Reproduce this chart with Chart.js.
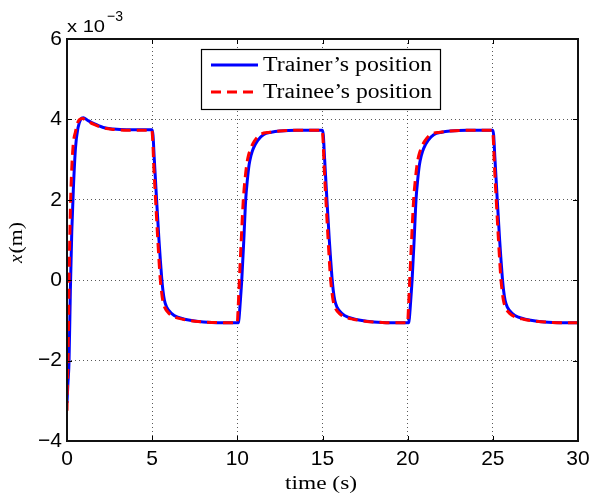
<!DOCTYPE html>
<html>
<head>
<meta charset="utf-8">
<script src="https://cdn.jsdelivr.net/npm/chart.js@4.4.0/dist/chart.umd.min.js"></script>
<style>
  html, body { margin: 0; padding: 0; background: #fff; }
  #wrap { width: 591px; height: 499px; }
</style>
</head>
<body>
<div id="wrap"><canvas id="c" width="591" height="499"></canvas></div>
<script>
// Values are in units of 1e-3 m (axis shows "x 10^-3")
const trainerTime = [
  0, 0.05, 0.12, 0.2, 0.28, 0.37, 0.5, 0.65, 0.8, 0.96, 1.2, 1.55, 2.13, 2.72, 3.5, 5.0,
  5.05, 5.12, 5.26, 5.40, 5.48, 5.56, 5.63, 5.72, 5.85, 6.15, 6.5, 6.9, 7.6, 8.5, 10.0,
  10.06, 10.10, 10.18, 10.26, 10.38, 10.49, 10.59, 10.69, 10.80, 10.94, 11.2, 11.53, 12.0, 12.5, 13.5, 15.0,
  15.05, 15.12, 15.26, 15.40, 15.48, 15.56, 15.63, 15.72, 15.85, 16.15, 16.5, 16.9, 17.6, 18.5, 20.0,
  20.06, 20.10, 20.18, 20.26, 20.38, 20.49, 20.59, 20.69, 20.80, 20.94, 21.2, 21.53, 22.0, 22.5, 23.5, 25.0,
  25.05, 25.12, 25.26, 25.40, 25.48, 25.56, 25.63, 25.72, 25.85, 26.15, 26.5, 26.9, 27.6, 28.5, 30.0
];
const trainerPos = [
  -3.05, -2.6, -2.0, -0.2, 1.2, 2.24, 3.3, 3.8, 4.0, 4.04, 3.98, 3.9, 3.8, 3.76, 3.74, 3.74,
  3.6, 3.05, 2.0, 1.0, 0.5, 0.05, -0.25, -0.5, -0.67, -0.83, -0.92, -0.97, -1.02, -1.05, -1.06,
  -1.05, -0.95, -0.5, 0, 1.0, 2.0, 2.5, 2.87, 3.1, 3.28, 3.48, 3.62, 3.68, 3.71, 3.73, 3.73,
  3.6, 3.05, 2.0, 1.0, 0.5, 0.05, -0.25, -0.5, -0.67, -0.83, -0.92, -0.97, -1.02, -1.05, -1.06,
  -1.05, -0.95, -0.5, 0, 1.0, 2.0, 2.5, 2.87, 3.1, 3.28, 3.48, 3.62, 3.68, 3.71, 3.73, 3.73,
  3.6, 3.05, 2.0, 1.0, 0.5, 0.05, -0.25, -0.5, -0.67, -0.83, -0.92, -0.97, -1.02, -1.05, -1.06
];
const traineeTime = [
  0, 0.03, 0.06, 0.12, 0.18, 0.23, 0.35, 0.5, 0.66, 0.9, 1.2, 1.55, 2.13, 2.72, 3.5, 4.98,
  5.03, 5.10, 5.20, 5.33, 5.40, 5.47, 5.54, 5.62, 5.73, 6.0, 6.35, 6.8, 7.5, 8.5, 10.0,
  10.03, 10.12, 10.23, 10.35, 10.45, 10.55, 10.65, 10.79, 11.0, 11.33, 11.9, 12.5, 13.5, 14.98,
  15.03, 15.10, 15.20, 15.33, 15.40, 15.47, 15.54, 15.62, 15.73, 16.0, 16.35, 16.8, 17.5, 18.5, 20.0,
  20.03, 20.12, 20.23, 20.35, 20.45, 20.55, 20.65, 20.79, 21.0, 21.33, 21.9, 22.5, 23.5, 24.98,
  25.03, 25.10, 25.20, 25.33, 25.40, 25.47, 25.54, 25.62, 25.73, 26.0, 26.35, 26.8, 27.5, 28.5, 30.0
];
const traineePos = [
  -3.25, -2.5, -2.0, 0, 1.4, 2.24, 3.3, 3.7, 3.95, 4.02, 3.96, 3.88, 3.79, 3.75, 3.73, 3.73,
  3.5, 2.8, 2.0, 1.0, 0.5, 0.05, -0.25, -0.5, -0.67, -0.83, -0.92, -0.97, -1.02, -1.05, -1.06,
  -0.85, 0, 1.0, 2.0, 2.5, 2.87, 3.1, 3.28, 3.46, 3.62, 3.68, 3.71, 3.73, 3.73,
  3.5, 2.8, 2.0, 1.0, 0.5, 0.05, -0.25, -0.5, -0.67, -0.83, -0.92, -0.97, -1.02, -1.05, -1.06,
  -0.85, 0, 1.0, 2.0, 2.5, 2.87, 3.1, 3.28, 3.46, 3.62, 3.68, 3.71, 3.73, 3.73,
  3.5, 2.8, 2.0, 1.0, 0.5, 0.05, -0.25, -0.5, -0.67, -0.83, -0.92, -0.97, -1.02, -1.05, -1.06
];
const xTicks = [0, 5, 10, 15, 20, 25, 30];
const yTicks = [-4, -2, 0, 2, 4, 6];
const seriesNames = ["Trainer\u2019s position", "Trainee\u2019s position"];
const xLabel = "time (s)";
const yExponent = "\u22123";

const toPts = (t, v) => t.map((tt, i) => ({ x: tt, y: v[i] }));

const SANS = '"Liberation Sans", Arial, Helvetica, sans-serif';
const SERIF = '"Liberation Serif", "Times New Roman", serif';

// draw text horizontally stretched to a target width (left-aligned at x)
function fitText(ctx, text, x, y, target) {
  const w = ctx.measureText(text).width;
  const k = target / w;
  ctx.save();
  ctx.translate(x, y);
  ctx.scale(k, 1);
  ctx.textAlign = 'left';
  ctx.fillText(text, 0, 0);
  ctx.restore();
}

const decor = {
  id: 'decor',
  afterDraw(chart) {
    const ctx = chart.ctx;
    const a = chart.chartArea;
    const xs = chart.scales.x, ys = chart.scales.y;
    ctx.save();
    // inward ticks
    ctx.strokeStyle = '#000';
    ctx.lineWidth = 1;
    ctx.beginPath();
    xTicks.forEach(v => {
      const px = Math.round(xs.getPixelForValue(v)) + 0.5;
      ctx.moveTo(px, a.bottom); ctx.lineTo(px, a.bottom - 5);
      ctx.moveTo(px, a.top); ctx.lineTo(px, a.top + 5);
    });
    yTicks.forEach(v => {
      const py = Math.round(ys.getPixelForValue(v)) + 0.5;
      ctx.moveTo(a.left, py); ctx.lineTo(a.left + 5, py);
      ctx.moveTo(a.right, py); ctx.lineTo(a.right - 5, py);
    });
    ctx.stroke();
    // box
    ctx.lineWidth = 2;
    ctx.strokeStyle = '#111';
    ctx.strokeRect(a.left, a.top, a.right - a.left, a.bottom - a.top);

    // exponent label
    ctx.fillStyle = '#000';
    ctx.textBaseline = 'alphabetic';
    ctx.font = '16px ' + SANS;
    fitText(ctx, 'x 10', a.left, 32, 38);
    ctx.font = '15px ' + SANS;
    fitText(ctx, yExponent, a.left + 40, 21, 16);

    // x title
    ctx.font = '19px ' + SERIF;
    fitText(ctx, xLabel, 285, 489, 72);

    // y title: italic x + (m), rotated
    ctx.save();
    ctx.translate(22, 263);
    ctx.rotate(-Math.PI / 2);
    ctx.textAlign = 'left';
    ctx.font = 'italic 19px ' + SERIF;
    const wx = ctx.measureText('x').width;
    ctx.fillText('x', 0, 0);
    ctx.font = '19px ' + SERIF;
    fitText(ctx, '(m)', wx + 1, 0, 41 - wx - 1);
    ctx.restore();

    // legend
    const lx = 201, ly = 49, lw = 239, lh = 60;
    ctx.fillStyle = '#fff';
    ctx.fillRect(lx, ly, lw, lh);
    ctx.lineWidth = 1.2;
    ctx.strokeStyle = '#000';
    ctx.strokeRect(lx + 0.5, ly + 0.5, lw, lh);
    ctx.lineWidth = 3;
    ctx.strokeStyle = '#0000ff';
    ctx.beginPath(); ctx.moveTo(211, 65); ctx.lineTo(258, 65); ctx.stroke();
    ctx.strokeStyle = '#ff0000';
    ctx.setLineDash([10, 6]);
    ctx.beginPath(); ctx.moveTo(211, 92); ctx.lineTo(258, 92); ctx.stroke();
    ctx.setLineDash([]);
    ctx.fillStyle = '#000';
    ctx.font = '20px ' + SERIF;
    ctx.textBaseline = 'alphabetic';
    fitText(ctx, seriesNames[0], 263, 71, 169);
    fitText(ctx, seriesNames[1], 263, 98, 169);
    ctx.restore();
  }
};

new Chart(document.getElementById('c'), {
  type: 'line',
  data: {
    datasets: [
      {
        label: seriesNames[1],
        data: toPts(traineeTime, traineePos),
        borderColor: '#ff0000',
        borderWidth: 3,
        borderDash: [10, 6],
        pointRadius: 0,
        fill: false,
        cubicInterpolationMode: 'monotone'
      },
      {
        label: seriesNames[0],
        data: toPts(trainerTime, trainerPos),
        borderColor: '#0000ff',
        borderWidth: 3,
        pointRadius: 0,
        fill: false,
        cubicInterpolationMode: 'monotone'
      }
    ]
  },
  options: {
    responsive: false,
    animation: false,
    events: [],
    layout: { padding: { left: 0, right: 13, top: 39, bottom: 0 } },
    plugins: { legend: { display: false }, tooltip: { enabled: false } },
    scales: {
      x: {
        type: 'linear',
        min: 0, max: 30,
        afterBuildTicks: s => { s.ticks = xTicks.map(v => ({ value: v })); },
        afterFit: s => { s.height = 58; s.paddingLeft = 0; s.paddingRight = 0; },
        grid: { color: 'rgba(0,0,0,0.65)', lineWidth: 1, drawTicks: false },
        border: { display: false, dash: [1, 3] },
        ticks: { color: '#000', font: { family: SANS, size: 21 }, padding: 6, maxRotation: 0 }
      },
      y: {
        type: 'linear',
        min: -4, max: 6,
        afterBuildTicks: s => { s.ticks = yTicks.map(v => ({ value: v })); },
        afterFit: s => { s.width = 67; s.paddingTop = 0; s.paddingBottom = 0; },
        grid: { color: 'rgba(0,0,0,0.65)', lineWidth: 1, drawTicks: false },
        border: { display: false, dash: [1, 3] },
        ticks: {
          color: '#000', font: { family: SANS, size: 21 }, padding: 5,
          callback: v => (v < 0 ? '\u2212' + Math.abs(v) : String(v))
        }
      }
    }
  },
  plugins: [decor]
});
</script>
</body>
</html>
